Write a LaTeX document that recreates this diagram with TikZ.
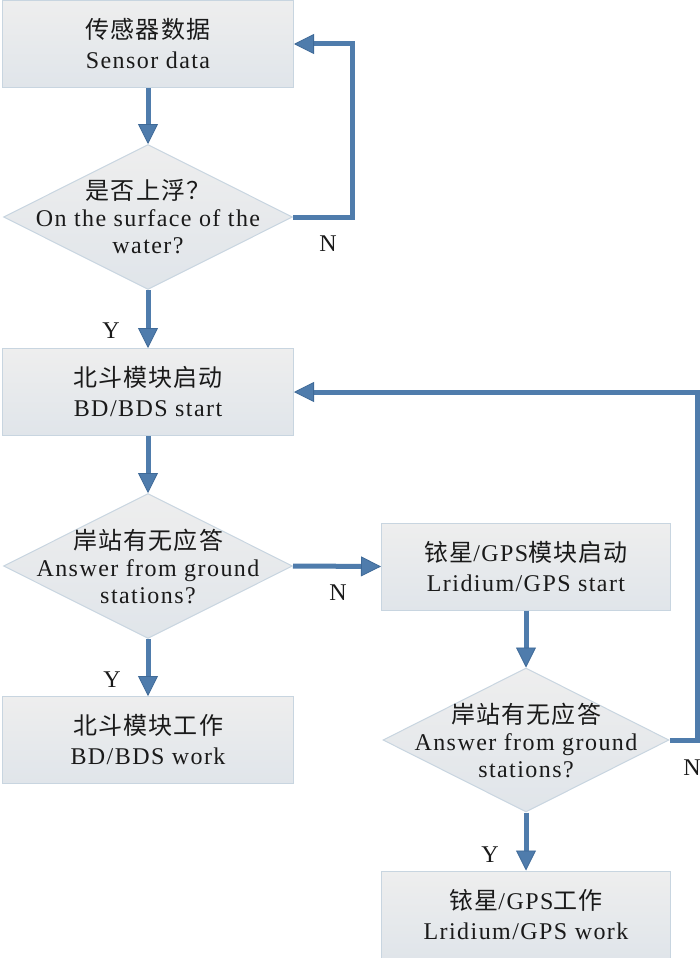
\documentclass[tikz,border=0pt]{standalone}
\usepackage{fontspec}
\setmainfont{Liberation Serif}[LetterSpace=6]
\newfontfamily\cjk{Noto Sans CJK SC}[LetterSpace=5]
\usetikzlibrary{shapes.geometric,arrows.meta}
\definecolor{arr}{HTML}{4F7CAC}
\definecolor{arrd}{HTML}{3F6A98}
\definecolor{bord}{HTML}{C8D5E0}
\definecolor{ftop}{HTML}{EEEEEE}
\definecolor{fbot}{HTML}{E0E5EA}
\definecolor{txtc}{HTML}{1A1A1A}
\newcommand\myfs{\fontsize{24}{30}\selectfont}
\newcommand\myfd{\fontsize{24}{27}\selectfont}
\tikzset{
  box/.style={rectangle, draw=bord, line width=1pt, top color=ftop, bottom color=fbot,
    minimum width=291pt, minimum height=87pt, inner sep=0pt, align=center, font=\myfs, text=txtc},
  rbox/.style={box, minimum width=289pt},
  dia/.style={diamond, draw=bord, line width=1pt, top color=ftop, bottom color=fbot,
    minimum width=289pt, minimum height=145pt, inner sep=0pt},
  dtxt/.style={align=center, font=\myfd, text=txtc, inner sep=0pt},
  lbl/.style={font=\myfs, text=txtc, inner sep=0pt},
  flow/.style={draw=arr, line width=5pt,
    -{Triangle[width=20pt,length=20pt,line width=0.8pt,fill=arr,color=arrd]}}
}
\begin{document}
\begin{tikzpicture}[x=1pt,y=-1pt]
\useasboundingbox[fill=white] (0,0) rectangle (700,958);
% left column
\node[box] (b1) at (148,44) {{\cjk 传感器数据}\\Sensor data};
\node[dia, label={[dtxt]center:{{\cjk 是否上浮？}\\On the surface of the\\water?}}] (d1) at (148,217) {};
\node[box] (b2) at (148,392) {{\cjk 北斗模块启动}\\BD/BDS start};
\node[dia, label={[dtxt]center:{{\cjk 岸站有无应答}\\Answer from ground\\stations?}}] (d2) at (148,566) {};
\node[box] (b4) at (148,740) {{\cjk 北斗模块工作}\\BD/BDS work};
% right column
\node[rbox] (b3) at (526,566.5) {{\cjk 铱星}/GPS{\cjk 模块启动}\\Lridium/GPS start};
\node[dia, minimum width=286pt, minimum height=144pt, label={[dtxt]center:{{\cjk 岸站有无应答}\\Answer from ground\\stations?}}] (d3) at (526,740) {};
\node[rbox] (b5) at (526,914.5) {{\cjk 铱星}/GPS{\cjk 工作}\\Lridium/GPS work};
% connectors
\draw[flow] (b1.south) -- (d1.north);
\draw[flow] (d1.east) -- ++(59,0) |- (b1.east);
\draw[flow] (d1.south) -- (b2.north);
\draw[flow] (b2.south) -- (d2.north);
\draw[flow] (d2.east) -- (b3.west);
\draw[flow] (d2.south) -- (b4.north);
\draw[flow] (b3.south) -- (d3.north);
\draw[flow] (d3.east) -- ++(28,0) |- (b2.east);
\draw[flow] (d3.south) -- (b5.north);
% labels
\node[lbl] (n1) at (328,244) {N};
\node[lbl] (y1) at (111,331) {Y};
\node[lbl] (n2) at (338,593) {N};
\node[lbl] (y2) at (112,680) {Y};
\node[lbl] (n3) at (692,768) {N};
\node[lbl] (y3) at (490,855) {Y};
\end{tikzpicture}
\end{document}
